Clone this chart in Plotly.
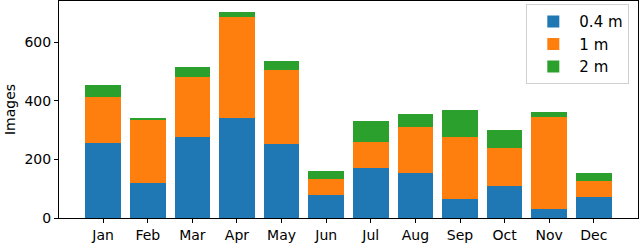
import plotly.graph_objects as go

months = ["Jan", "Feb", "Mar", "Apr", "May", "Jun", "Jul", "Aug", "Sep", "Oct", "Nov", "Dec"]
res_04 = [256, 120, 276, 342, 251, 77, 170, 155, 65, 109, 32, 71]
res_1 = [156, 216, 205, 345, 254, 55, 88, 156, 211, 130, 313, 55]
res_2 = [41, 5, 35, 14, 32, 27, 72, 44, 91, 61, 18, 29]
series_names = ["0.4 m", "1 m", "2 m"]
colors = ["#1f77b4", "#ff7f0e", "#2ca02c"]

fig = go.Figure()
for name, vals, c in zip(series_names, [res_04, res_1, res_2], colors):
    fig.add_trace(go.Bar(x=list(range(len(months))), y=vals, name=name,
                         marker=dict(color=c, line=dict(width=0)), width=0.8))

fig.update_layout(
    barmode="stack",
    width=640, height=243,
    margin=dict(l=59, r=2, t=1, b=25),
    plot_bgcolor="white", paper_bgcolor="white",
    font=dict(family="DejaVu Sans", size=14, color="black"),
    showlegend=True,
    legend=dict(x=0.985, y=0.985, xanchor="right", yanchor="top",
                traceorder="normal",
                bordercolor="#d0d0d0", borderwidth=1, bgcolor="rgba(255,255,255,0.8)",
                font=dict(size=15), tracegroupgap=0, itemwidth=42),
    xaxis=dict(range=[-0.99, 11.99], tickmode="array", tickvals=list(range(12)),
               ticktext=months, ticks="outside", ticklen=4, tickcolor="black",
               showline=True, linecolor="black", linewidth=1, mirror=True,
               showgrid=False, zeroline=False, automargin=False),
    yaxis=dict(range=[0, 740], tickvals=[0, 200, 400, 600], ticks="outside",
               ticklen=4, tickcolor="black", showline=True, linecolor="black",
               linewidth=1, mirror=True, showgrid=False, zeroline=False,
               automargin=False,
               title=dict(text="Images", standoff=5, font=dict(size=14))),
)
fig.write_html("out.html", config={"responsive": False, "displayModeBar": False},
               post_script="document.body.style.margin='0';")
